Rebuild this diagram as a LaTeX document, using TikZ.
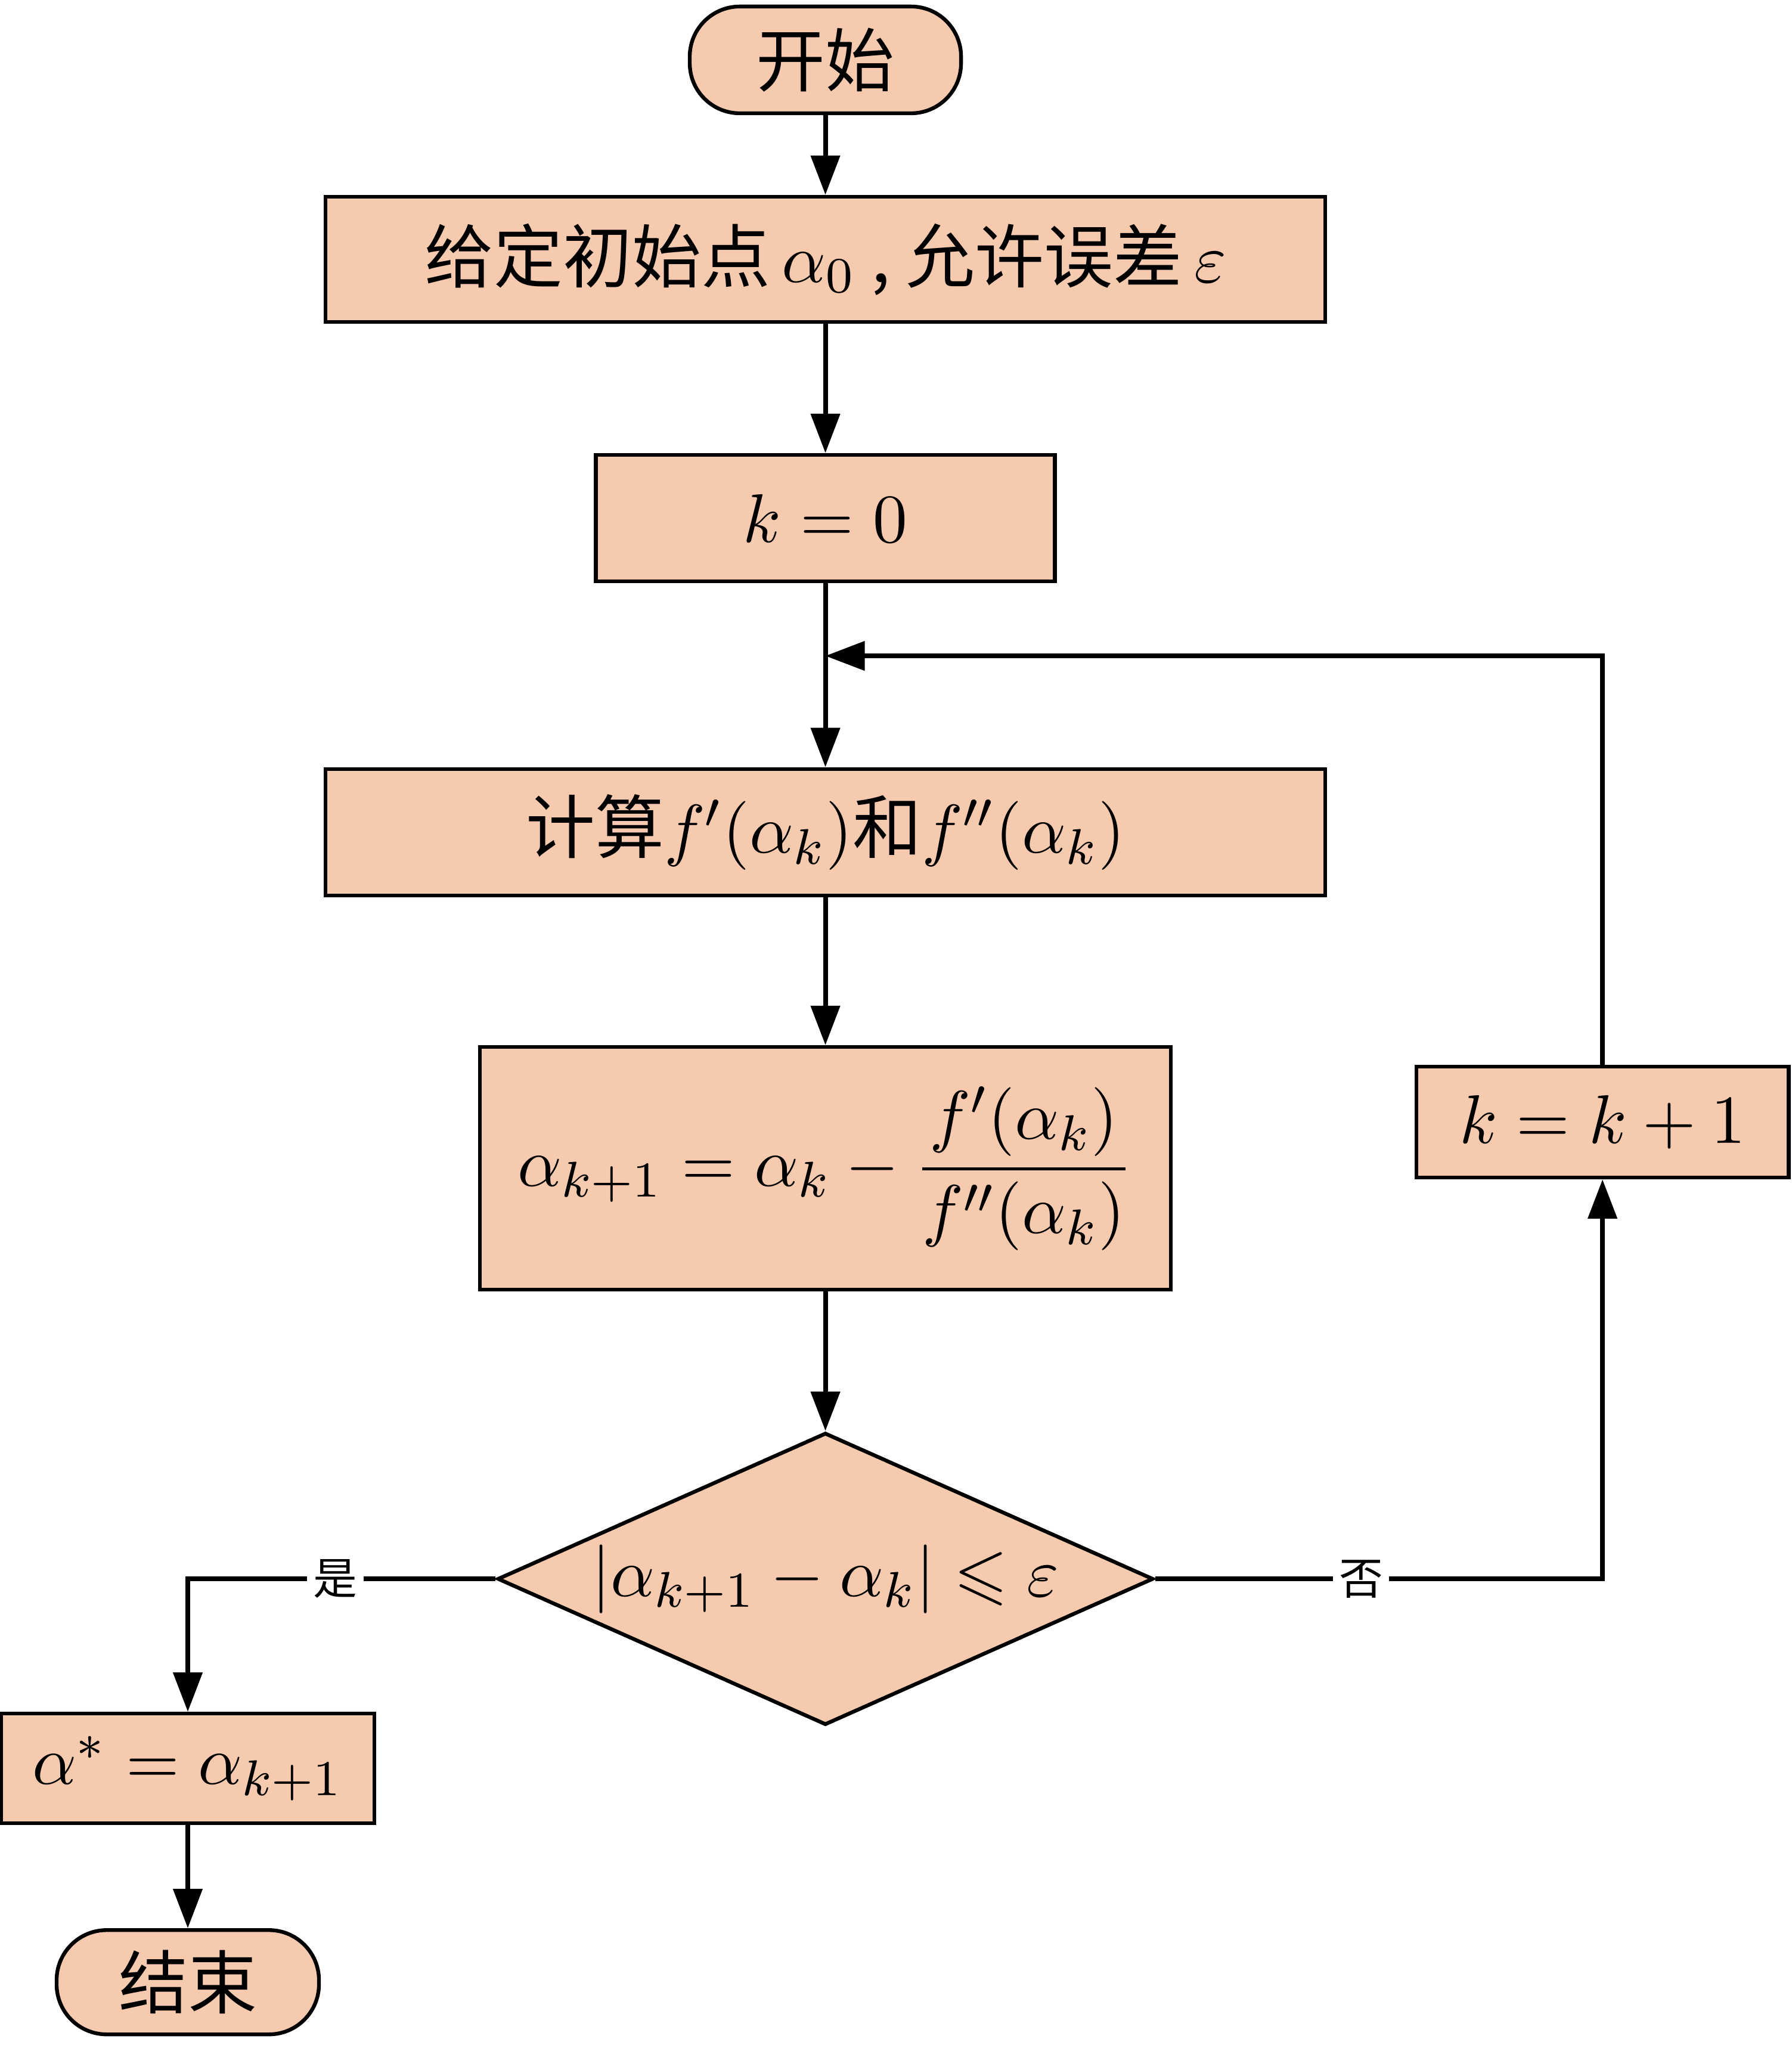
\documentclass[tikz,border=0pt]{standalone}
\usepackage{amsmath,amssymb}
\usepackage{fontspec}
\usetikzlibrary{shapes.geometric,arrows.meta}
\newfontfamily\cjk{Noto Sans CJK SC}
\definecolor{peach}{RGB}{245,202,175}
\tikzset{
  base/.style={draw, fill=peach, line width=0.6pt, inner sep=0pt, font=\cjk\fontsize{11}{13}\selectfont},
  terminal/.style={base, rectangle, rounded corners=0.28cm},
  process/.style={base, rectangle},
  decision/.style={base, diamond, aspect=2.2},
  flow/.style={line width=0.75pt, -{Triangle[width=0.16cm,length=0.22cm]}},
  lbl/.style={fill=white, inner sep=1pt, font=\cjk\fontsize{7}{8}\selectfont}
}

\begin{document}
\begin{tikzpicture}
\useasboundingbox (0,0) rectangle (10.017,-11.433);
% main column
\node[terminal, minimum width=1.517cm, minimum height=0.597cm] (start) at (4.615,-0.335) {开始};
\node[process, minimum width=5.59cm, minimum height=0.70cm] (init) at (4.615,-1.45) {给定初始点\,$\alpha_0$ , 允许误差\,$\varepsilon$};
\node[process, minimum width=2.567cm, minimum height=0.707cm] (kzero) at (4.615,-2.897) {$k=0$};
\node[process, minimum width=5.59cm, minimum height=0.707cm] (grad) at (4.615,-4.653) {计算$f'(\alpha_k)$和$f''(\alpha_k)$};
\node[process, minimum width=3.863cm, minimum height=1.357cm] (update) at (4.615,-6.532) {$\displaystyle\alpha_{k+1}=\alpha_k-\frac{f'(\alpha_k)}{f''(\alpha_k)}$};
\node[decision, minimum width=3.667cm, minimum height=1.633cm] (check) at (4.615,-8.827) {$|\alpha_{k+1}-\alpha_k|\leqslant\varepsilon$};
% side branches
\node[process, minimum width=2.083cm, minimum height=0.62cm] (kinc) at (8.96,-6.273) {$k=k+1$};
\node[process, minimum width=2.087cm, minimum height=0.613cm] (astar) at (1.05,-9.887) {$\alpha^*=\alpha_{k+1}$};
\node[terminal, minimum width=1.467cm, minimum height=0.583cm] (done) at (1.05,-11.082) {结束};
\coordinate (merge) at (4.615,-3.667);

\draw[flow] (start) -- (init);
\draw[flow] (init) -- (kzero);
\draw[flow] (kzero) -- (grad);
\draw[flow] (grad) -- (update);
\draw[flow] (update) -- (check);
\draw[flow] (check.west) -| node[pos=0.26, lbl] {是} (astar);
\draw[flow] (check.east) -| node[pos=0.23, lbl] {否} (kinc);
\draw[flow] (kinc.north) |- (merge);
\draw[flow] (astar) -- (done);
\end{tikzpicture}
\end{document}
